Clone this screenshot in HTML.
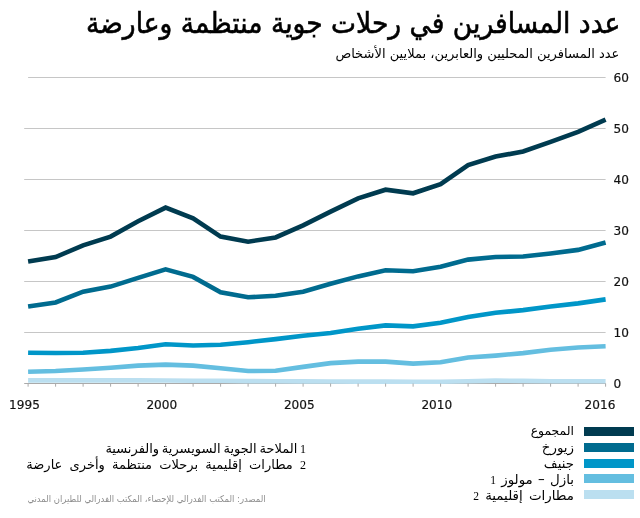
<!DOCTYPE html>
<html lang="ar">
<head>
<meta charset="utf-8">
<title>عدد المسافرين في رحلات جوية منتظمة وعارضة</title>
<style>
html,body{margin:0;padding:0;background:#fff;}
body{width:640px;height:518px;position:relative;overflow:hidden;font-family:"DejaVu Sans","Liberation Sans",sans-serif;color:#111;}
.t{position:absolute;white-space:nowrap;line-height:1;}
.ar{direction:rtl;text-align:right;}
.num{font-family:"DejaVu Sans","Liberation Sans",sans-serif;font-size:12.1px;color:#111;-webkit-text-stroke:0.18px #111;}
.title{right:19.6px;top:11.4px;font-size:26.55px;font-weight:normal;-webkit-text-stroke:0.55px #000;color:#000;transform:scale(1,1.08);transform-origin:100% 84.6%;}
.sub{right:20.6px;top:46.7px;font-size:13.05px;color:#000;}
.leg{right:66px;font-size:13.4px;color:#000;}
.fn{right:334px;font-size:13px;color:#000;}
.d{font-family:"Liberation Serif",serif;font-size:11.5px;}
.src{right:374px;top:494px;font-size:9.4px;color:#8c8c8c;transform:scaleX(0.9);transform-origin:100% 50%;}
</style>
</head>
<body>
<svg width="640" height="518" viewBox="0 0 640 518" style="position:absolute;left:0;top:0">
<line x1="24.2" y1="332.5" x2="605.6" y2="332.5" stroke="#c6c6c6" stroke-width="1"/>
<line x1="24.2" y1="281.5" x2="605.6" y2="281.5" stroke="#c6c6c6" stroke-width="1"/>
<line x1="24.2" y1="230.5" x2="605.6" y2="230.5" stroke="#c6c6c6" stroke-width="1"/>
<line x1="24.2" y1="179.5" x2="605.6" y2="179.5" stroke="#c6c6c6" stroke-width="1"/>
<line x1="24.2" y1="128.5" x2="605.6" y2="128.5" stroke="#c6c6c6" stroke-width="1"/>
<line x1="28.1" y1="77.5" x2="605.6" y2="77.5" stroke="#c6c6c6" stroke-width="1"/>
<line x1="24.2" y1="383.5" x2="605.6" y2="383.5" stroke="#aaaaaa" stroke-width="1"/>
<polyline fill="none" stroke="#BBDFF0" stroke-width="4.6" stroke-linejoin="miter" points="28.1,380.4 55.6,380.4 83.1,380.4 110.6,380.4 138.1,380.4 165.6,380.5 193.1,380.7 220.6,380.8 248.1,381.1 275.6,381.2 303.1,381.4 330.6,381.5 358.1,381.6 385.6,381.6 413.1,381.7 440.6,381.8 468.1,381.2 495.6,380.6 523.1,380.9 550.6,381.2 578.1,381.3 605.6,381.3"/>
<polyline fill="none" stroke="#64BEE0" stroke-width="4.6" stroke-linejoin="miter" points="28.1,371.8 55.6,371.0 83.1,369.5 110.6,367.7 138.1,365.6 165.6,364.6 193.1,365.6 220.6,368.2 248.1,371.0 275.6,370.8 303.1,366.9 330.6,363.1 358.1,361.6 385.6,361.6 413.1,363.6 440.6,362.3 468.1,357.5 495.6,355.6 523.1,353.1 550.6,349.7 578.1,347.5 605.6,346.3"/>
<polyline fill="none" stroke="#0096C8" stroke-width="4.6" stroke-linejoin="miter" points="28.1,352.7 55.6,353.0 83.1,352.7 110.6,350.9 138.1,348.0 165.6,344.2 193.1,345.5 220.6,344.7 248.1,342.2 275.6,339.1 303.1,335.8 330.6,333.0 358.1,328.7 385.6,325.4 413.1,326.4 440.6,322.8 468.1,316.9 495.6,312.8 523.1,310.1 550.6,306.5 578.1,303.4 605.6,299.4"/>
<polyline fill="none" stroke="#006B8F" stroke-width="4.6" stroke-linejoin="miter" points="28.1,306.5 55.6,302.4 83.1,291.7 110.6,286.6 138.1,277.9 165.6,269.3 193.1,276.9 220.6,292.2 248.1,297.3 275.6,295.8 303.1,291.7 330.6,283.8 358.1,276.4 385.6,270.3 413.1,271.3 440.6,266.7 468.1,259.6 495.6,257.0 523.1,256.5 550.6,253.5 578.1,249.9 605.6,242.5"/>
<polyline fill="none" stroke="#003B50" stroke-width="4.6" stroke-linejoin="miter" points="28.1,261.6 55.6,257.0 83.1,245.3 110.6,236.6 138.1,221.3 165.6,207.6 193.1,218.3 220.6,236.6 248.1,241.7 275.6,237.4 303.1,225.4 330.6,211.6 358.1,198.4 385.6,189.7 413.1,193.3 440.6,184.1 468.1,165.0 495.6,156.6 523.1,151.5 550.6,141.8 578.1,131.8 605.6,119.6"/>
<line x1="28.1" y1="383.5" x2="28.1" y2="386.7" stroke="#aaaaaa" stroke-width="1"/>
<line x1="55.6" y1="383.5" x2="55.6" y2="386.7" stroke="#aaaaaa" stroke-width="1"/>
<line x1="83.1" y1="383.5" x2="83.1" y2="386.7" stroke="#aaaaaa" stroke-width="1"/>
<line x1="110.6" y1="383.5" x2="110.6" y2="386.7" stroke="#aaaaaa" stroke-width="1"/>
<line x1="138.1" y1="383.5" x2="138.1" y2="386.7" stroke="#aaaaaa" stroke-width="1"/>
<line x1="165.6" y1="383.5" x2="165.6" y2="386.7" stroke="#aaaaaa" stroke-width="1"/>
<line x1="193.1" y1="383.5" x2="193.1" y2="386.7" stroke="#aaaaaa" stroke-width="1"/>
<line x1="220.6" y1="383.5" x2="220.6" y2="386.7" stroke="#aaaaaa" stroke-width="1"/>
<line x1="248.1" y1="383.5" x2="248.1" y2="386.7" stroke="#aaaaaa" stroke-width="1"/>
<line x1="275.6" y1="383.5" x2="275.6" y2="386.7" stroke="#aaaaaa" stroke-width="1"/>
<line x1="303.1" y1="383.5" x2="303.1" y2="386.7" stroke="#aaaaaa" stroke-width="1"/>
<line x1="330.6" y1="383.5" x2="330.6" y2="386.7" stroke="#aaaaaa" stroke-width="1"/>
<line x1="358.1" y1="383.5" x2="358.1" y2="386.7" stroke="#aaaaaa" stroke-width="1"/>
<line x1="385.6" y1="383.5" x2="385.6" y2="386.7" stroke="#aaaaaa" stroke-width="1"/>
<line x1="413.1" y1="383.5" x2="413.1" y2="386.7" stroke="#aaaaaa" stroke-width="1"/>
<line x1="440.6" y1="383.5" x2="440.6" y2="386.7" stroke="#aaaaaa" stroke-width="1"/>
<line x1="468.1" y1="383.5" x2="468.1" y2="386.7" stroke="#aaaaaa" stroke-width="1"/>
<line x1="495.6" y1="383.5" x2="495.6" y2="386.7" stroke="#aaaaaa" stroke-width="1"/>
<line x1="523.1" y1="383.5" x2="523.1" y2="386.7" stroke="#aaaaaa" stroke-width="1"/>
<line x1="550.6" y1="383.5" x2="550.6" y2="386.7" stroke="#aaaaaa" stroke-width="1"/>
<line x1="578.1" y1="383.5" x2="578.1" y2="386.7" stroke="#aaaaaa" stroke-width="1"/>
<line x1="605.6" y1="383.5" x2="605.6" y2="386.7" stroke="#aaaaaa" stroke-width="1"/>
<rect x="584" y="427" width="50" height="9" fill="#003B50"/>
<rect x="584" y="443" width="50" height="9" fill="#006B8F"/>
<rect x="584" y="459" width="50" height="9" fill="#0096C8"/>
<rect x="584" y="474" width="50" height="9" fill="#64BEE0"/>
<rect x="584" y="490" width="50" height="9" fill="#BBDFF0"/>
</svg>
<div class="t ar title" id="title">عدد المسافرين في رحلات جوية منتظمة وعارضة</div>
<div class="t ar sub" id="sub">عدد المسافرين المحليين والعابرين، بملايين الأشخاص</div>
<div class="t num" style="left:613.6px;top:377.8px">0</div>
<div class="t num" style="left:613.6px;top:326.8px">10</div>
<div class="t num" style="left:613.6px;top:275.8px">20</div>
<div class="t num" style="left:613.6px;top:224.8px">30</div>
<div class="t num" style="left:613.6px;top:173.8px">40</div>
<div class="t num" style="left:613.6px;top:122.8px">50</div>
<div class="t num" style="left:613.6px;top:71.8px">60</div>
<div class="t num" style="left:4.5px;top:399.3px;width:40px;text-align:center">1995</div>
<div class="t num" style="left:141.8px;top:399.3px;width:40px;text-align:center">2000</div>
<div class="t num" style="left:279.3px;top:399.3px;width:40px;text-align:center">2005</div>
<div class="t num" style="left:416.8px;top:399.3px;width:40px;text-align:center">2010</div>
<div class="t num" style="left:580.0px;top:399.3px;width:40px;text-align:center">2016</div>
<div class="t ar leg" id="leg0" style="top:425.3px;word-spacing:0px;font-size:12.4px">المجموع</div>
<div class="t ar leg" id="leg1" style="top:440.7px;word-spacing:0px">زيورخ</div>
<div class="t ar leg" id="leg2" style="top:456.9px;word-spacing:0px">جنيف</div>
<div class="t ar leg" id="leg3" style="top:473.1px;word-spacing:1px">بازل – مولوز <span class="d">1</span></div>
<div class="t ar leg" id="leg4" style="top:489.3px;word-spacing:2px">مطارات إقليمية <span class="d">2</span></div>
<div class="t ar fn" id="fn1" style="top:442px;word-spacing:-1.4px"><span class="d" style="font-size:12px">1</span> الملاحة الجوية السويسرية والفرنسية</div>
<div class="t ar fn" id="fn2" style="top:458px;word-spacing:3.1px"><span class="d" style="font-size:12px">2</span> مطارات إقليمية برحلات منتظمة وأخرى عارضة</div>
<div class="t ar src" id="src">المصدر: المكتب الفدرالي للإحصاء، المكتب الفدرالي للطيران المدني</div>
</body>
</html>
